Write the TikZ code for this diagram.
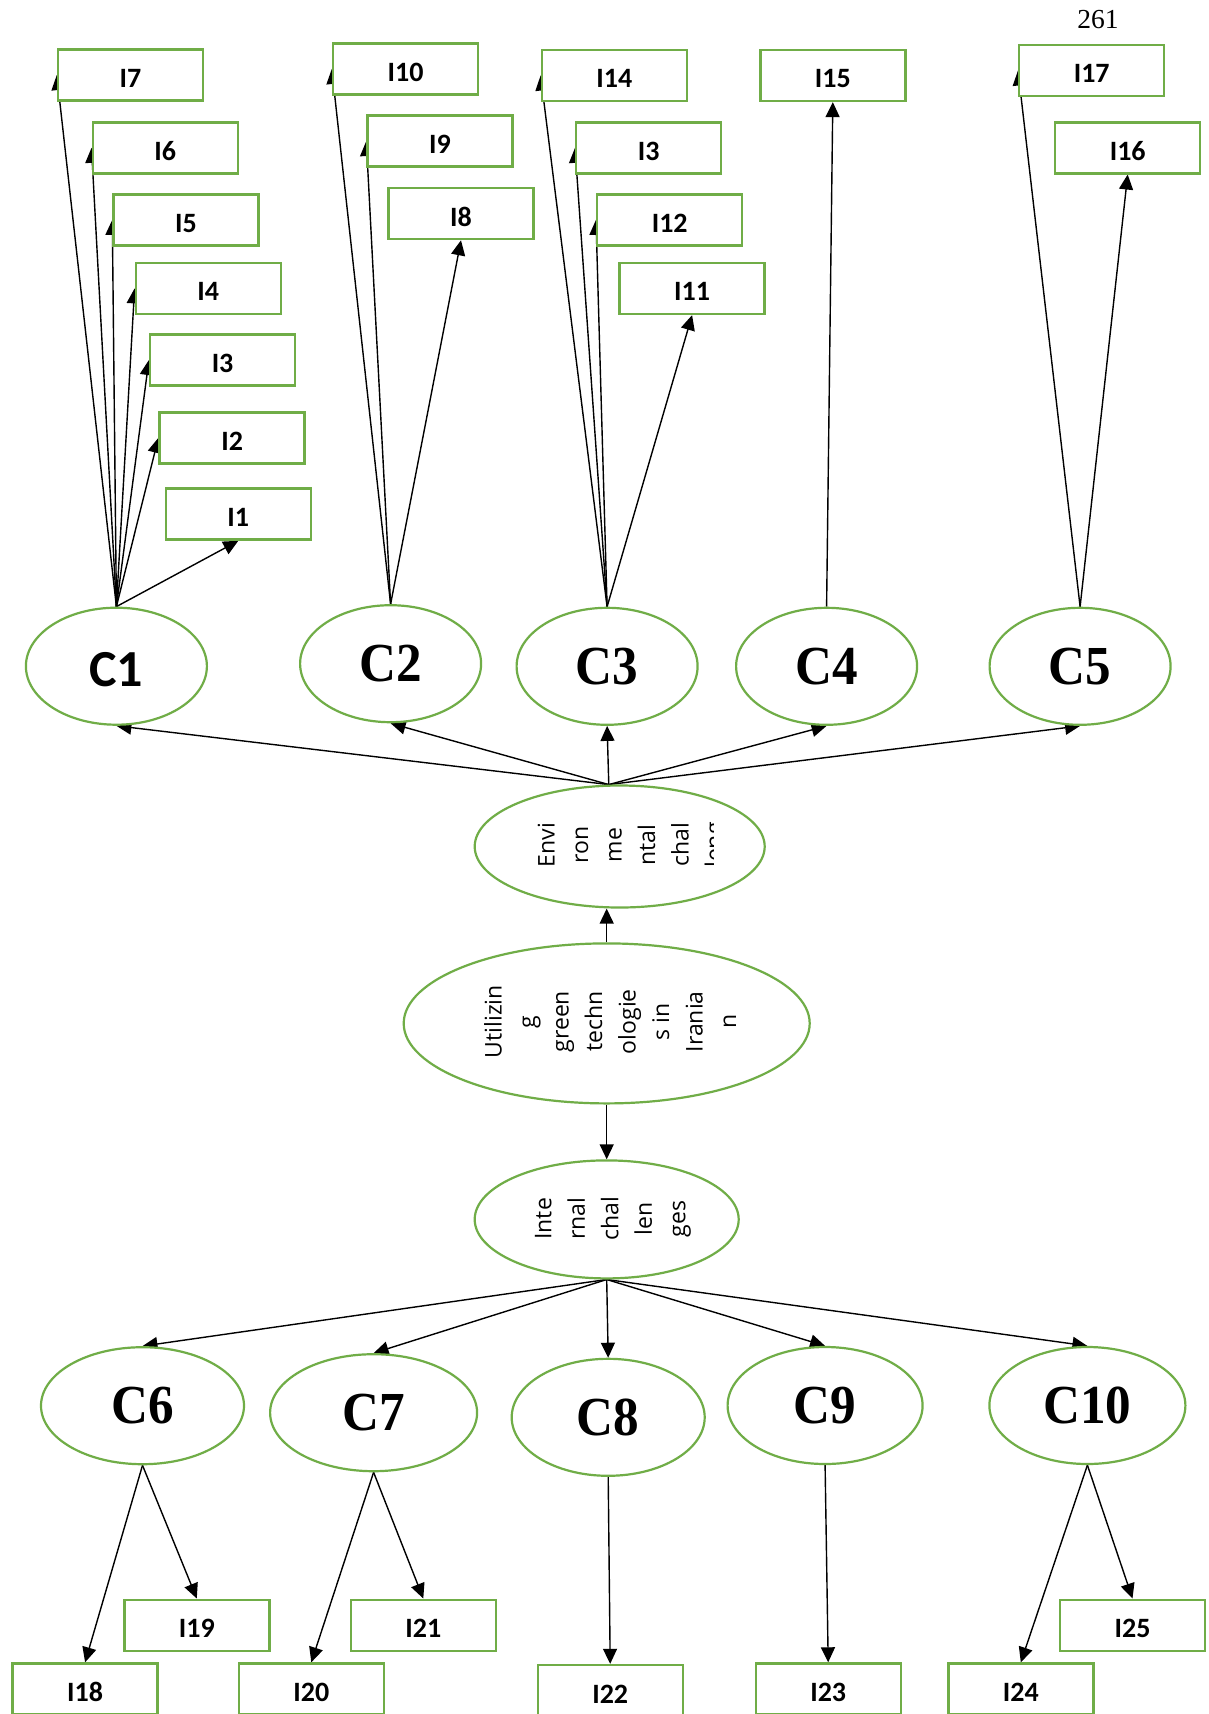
\documentclass[tikz,border=0pt]{standalone}
\usepackage{fontspec}
\usepackage{tikz}
\usepackage{xcolor}
\usetikzlibrary{shapes.geometric, arrows.meta, backgrounds}

\newfontfamily\boxfont{Carlito}
\newfontfamily\ovalfont{Open Sans}
\newfontfamily\serifcond{Liberation Serif}[FakeStretch=0.93]
\newfontfamily\serifnum{Liberation Serif}

\definecolor{leafgreen}{HTML}{70AD47}

\tikzset{
  crit/.style={ellipse, draw=leafgreen, line width=2.2pt, fill=white, minimum width=181pt, minimum height=117pt, inner sep=0pt, font=\serifcond\bfseries\fontsize{55}{60}\selectfont},
  core/.style={ellipse, draw=leafgreen, line width=2.2pt, fill=white, inner sep=0pt},
  ind/.style={rectangle, draw=leafgreen, line width=2.4pt, fill=white, minimum width=145pt, minimum height=51pt, inner sep=0pt, text height=25pt, text depth=0pt, font=\boxfont\bfseries\fontsize{28}{30}\selectfont},
  vtext/.style={rotate=90, align=center, inner sep=0pt, font=\ovalfont\fontsize{23}{33.5}\selectfont},
  arr/.style={-{Triangle[length=15pt,width=14pt]}, line width=1.4pt}
}

\begin{document}
\begin{tikzpicture}[x=1pt, y=-1pt]
\useasboundingbox (0,0) rectangle (1208,1714);

% page number
\node[font=\serifnum\fontsize{27.5}{30}\selectfont] (pagenum) at (1098,20) {261};

% environmental criteria
\node[crit, font=\boxfont\bfseries\fontsize{52}{56}\selectfont, text height=40pt, text depth=0pt] (c1) at (116.4,666.2) {C1};
\node[crit] (c2) at (390.6,663.7) {C2};
\node[crit] (c3) at (607.1,666.3) {C3};
\node[crit] (c4) at (826.6,666.3) {C4};
\node[crit] (c5) at (1080.1,666.3) {C5};

% internal criteria
\node[crit, minimum width=203pt] (c6) at (142.5,1405.7) {C6};
\node[crit, minimum width=207pt] (c7) at (373.6,1412.7) {C7};
\node[crit, minimum width=193pt] (c8) at (608.2,1417.3) {C8};
\node[crit, minimum width=195pt] (c9) at (825.1,1405.5) {C9};
\node[crit, minimum width=196pt] (c10) at (1087.4,1405.5) {C10};

% middle ovals
\node[core, minimum width=290pt, minimum height=122pt] (env) at (619.7,846.5) {};
\node[core, minimum width=406pt, minimum height=160pt] (util) at (606.7,1023.4) {};
\node[core, minimum width=264pt, minimum height=118pt] (int) at (606.7,1219.4) {};

\begin{scope}
\clip (470,780) rectangle (713,912);
\node[vtext] (envtext) at (632.8,845) {Envi\\ron\\me\\ntal\\chal\\leng};
\end{scope}
\node[vtext] (utiltext) at (610.1,1021.7) {Utilizin\\g\\green\\techn\\ologie\\s in\\Irania\\n};
\node[vtext] (inttext) at (612.9,1218.8) {Inte\\rnal\\chal\\len\\ges};

% indicators
\foreach \nm/\lab/\x/\y in {i7/I7/130.5/75, i6/I6/165.2/147.8, i5/I5/186/219.8,
    i4/I4/208.3/288.4, i3/I3/222.6/360, i2/I2/232.1/437.8, i1/I1/238.3/514.1,
    i10/I10/405.5/68.9, i9/I9/440/141, i8/I8/461/213.6,
    i14/I14/614.3/75.4, i13/I3/648.7/147.8, i12/I12/669.7/219.8, i11/I11/692.1/288.4,
    i15/I15/832.8/75.4, i17/I17/1091.7/70.4, i16/I16/1127.7/147.8,
    i18/I18/85.1/1689, i19/I19/196.8/1625.2, i20/I20/311.3/1689, i21/I21/423.3/1625.2,
    i22/I22/610.2/1690.5, i23/I23/828.2/1689, i24/I24/1020.8/1689, i25/I25/1132.5/1625.2}
  \node[ind] (\nm) at (\x,\y) {\lab};

% connectors behind the boxes
\begin{scope}[on background layer]
\fill[white] (0,0) rectangle (1208,1714);
\foreach \t in {i7,i6,i5,i4,i3,i2}
  \draw[arr] (c1.north) -- (\t.west);
\draw[arr] (c1.north) -- (i1.south);
\foreach \t in {i10,i9}
  \draw[arr] (c2.north) -- (\t.west);
\draw[arr] (c2.north) -- (i8.south);
\foreach \t in {i14,i13,i12}
  \draw[arr] (c3.north) -- (\t.west);
\draw[arr] (c3.north) -- (i11.south);
\draw[arr] (c4.north) -- (i15.south);
\draw[arr] (c5.north) -- (i17.west);
\draw[arr] (c5.north) -- (i16.south);

\foreach \c in {c1,c2,c3,c4,c5}
  \draw[arr] (env.100) -- (\c.south);
\draw[arr] (util.north) -- (util.north |- env.south);
\draw[arr] (util.south) -- (int.north);
\foreach \c in {c6,c7,c8,c9,c10}
  \draw[arr] (int.south) -- (\c.north);

\draw[arr] (c6.south) -- (i18.north);
\draw[arr] (c6.south) -- (i19.north);
\draw[arr] (c7.south) -- (i20.north);
\draw[arr] (c7.south) -- (i21.north);
\draw[arr] (c8.south) -- (i22.north);
\draw[arr] (c9.south) -- (i23.north);
\draw[arr] (c10.south) -- (i24.north);
\draw[arr] (c10.south) -- (i25.north);
\end{scope}
\end{tikzpicture}
\end{document}
